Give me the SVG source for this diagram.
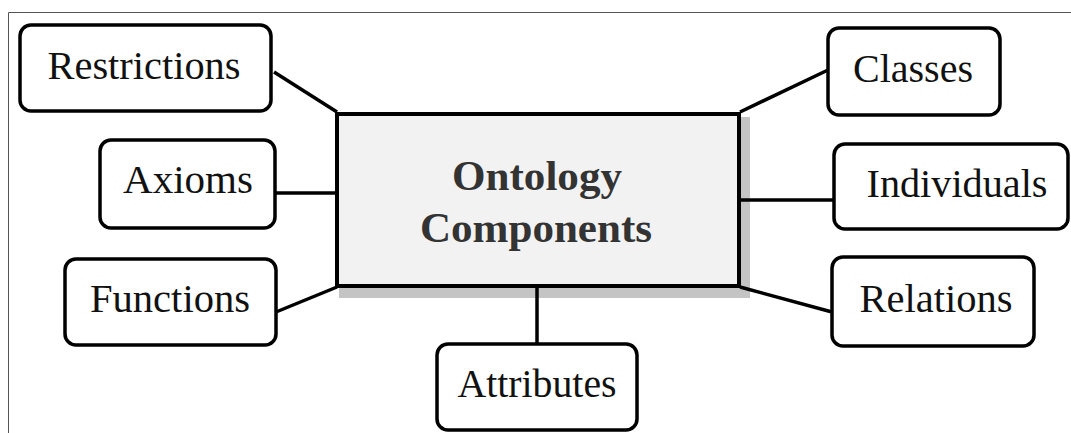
<svg xmlns="http://www.w3.org/2000/svg" width="1071" height="433" viewBox="0 0 1071 433">
<style>
.box{fill:#fff;stroke:#000;stroke-width:3.5}
.lbl{font-family:"Liberation Serif","Times New Roman",serif;font-size:41px;fill:#111;text-anchor:middle}
.title{font-family:"Liberation Serif","Times New Roman",serif;font-size:43px;font-weight:bold;fill:#333;text-anchor:middle}
.conn{stroke:#000;stroke-width:3.5;fill:none}
</style>
<rect width="1071" height="433" fill="#fff"/>
<path d="M8.5,433 V12.5 H1071" fill="none" stroke="#555" stroke-width="1"/>
<rect id="center-shadow" x="339" y="117" width="411" height="181" fill="#c4c4c4"/>
<g id="connectors">
<line class="conn" x1="274" y1="72" x2="337" y2="112"/>
<line class="conn" x1="740" y1="112" x2="828" y2="70"/>
<line class="conn" x1="275" y1="193" x2="337" y2="193"/>
<line class="conn" x1="740" y1="200" x2="834" y2="200"/>
<line class="conn" x1="276" y1="312" x2="337" y2="287"/>
<line class="conn" x1="740" y1="287" x2="832" y2="312"/>
<line class="conn" x1="537" y1="287" x2="537" y2="344"/>
</g>
<g id="center">
<rect x="337" y="114" width="402" height="172" fill="#f2f2f2" stroke="#000" stroke-width="4"/>
<text class="title" x="537" y="190" textLength="170" lengthAdjust="spacingAndGlyphs">Ontology</text>
<text class="title" x="536" y="242" textLength="232" lengthAdjust="spacingAndGlyphs">Components</text>
</g>
<g id="restrictions">
<rect class="box" x="20" y="25" width="251" height="86" rx="11"/>
<text class="lbl" x="144" y="79" textLength="193" lengthAdjust="spacingAndGlyphs">Restrictions</text>
</g>
<g id="classes">
<rect class="box" x="828" y="28" width="172" height="87" rx="11"/>
<text class="lbl" x="913" y="82" textLength="120" lengthAdjust="spacingAndGlyphs">Classes</text>
</g>
<g id="axioms">
<rect class="box" x="100" y="140" width="175" height="88" rx="11"/>
<text class="lbl" x="188" y="193" textLength="130" lengthAdjust="spacingAndGlyphs">Axioms</text>
</g>
<g id="individuals">
<rect class="box" x="834" y="144" width="234" height="85" rx="11"/>
<text class="lbl" x="957" y="197" textLength="181" lengthAdjust="spacingAndGlyphs">Individuals</text>
</g>
<g id="functions">
<rect class="box" x="65" y="259" width="211" height="86" rx="11"/>
<text class="lbl" x="170" y="312" textLength="160" lengthAdjust="spacingAndGlyphs">Functions</text>
</g>
<g id="relations">
<rect class="box" x="832" y="257" width="202" height="89" rx="11"/>
<text class="lbl" x="936" y="312" textLength="153" lengthAdjust="spacingAndGlyphs">Relations</text>
</g>
<g id="attributes">
<rect class="box" x="437" y="344" width="200" height="86" rx="11"/>
<text class="lbl" x="537" y="397" textLength="159" lengthAdjust="spacingAndGlyphs">Attributes</text>
</g>
</svg>
